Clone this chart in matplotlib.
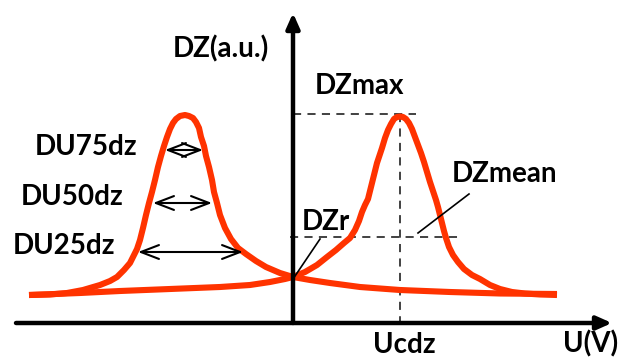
import matplotlib
matplotlib.use('Agg')
import matplotlib.pyplot as plt

plt.rcParams['font.family'] = ['Lato', 'DejaVu Sans']

# curves (U in a.u., DZ in a.u.)
left_u = [-2.64, -2.43, -2.26, -2.10, -1.93, -1.83, -1.76, -1.69, -1.63, -1.59, -1.56, -1.53, -1.50,
          -1.47, -1.44, -1.41, -1.38, -1.35, -1.32, -1.29, -1.26, -1.23, -1.20, -1.17, -1.13, -1.08,
          -1.04, -1.00, -0.97, -0.94, -0.92, -0.89, -0.87, -0.84, -0.81, -0.79, -0.76, -0.73, -0.68,
          -0.62, -0.55, -0.47, -0.37, -0.27, -0.13, 0.00, 0.17, 0.37, 0.67, 1.07, 1.57, 2.07, 2.64]
left_dz = [0.28, 0.285, 0.30, 0.33, 0.38, 0.42, 0.46, 0.53, 0.60, 0.68, 0.74, 0.83, 0.95,
           1.08, 1.20, 1.31, 1.43, 1.56, 1.67, 1.77, 1.86, 1.94, 2.00, 2.04, 2.07, 2.08,
           2.07, 2.05, 2.01, 1.95, 1.86, 1.77, 1.67, 1.56, 1.43, 1.31, 1.20, 1.08, 0.95,
           0.84, 0.75, 0.69, 0.62, 0.56, 0.50, 0.46, 0.43, 0.40, 0.36, 0.33, 0.31, 0.295, 0.29]

right_u = [-2.64, -2.13, -1.73, -1.23, -0.73, -0.43, -0.23, -0.08, 0.00, 0.12, 0.24, 0.34, 0.43,
           0.51, 0.57, 0.62, 0.66, 0.69, 0.72, 0.75, 0.78, 0.81, 0.84, 0.87, 0.89, 0.92, 0.95,
           0.98, 1.01, 1.04, 1.07, 1.10, 1.13, 1.16, 1.19, 1.22, 1.25, 1.28, 1.31, 1.34, 1.37,
           1.40, 1.43, 1.45, 1.47, 1.49, 1.51, 1.53, 1.56, 1.60, 1.65, 1.71, 1.79, 1.87, 1.97,
           2.07, 2.19, 2.32, 2.47, 2.64]
right_dz = [0.28, 0.30, 0.32, 0.34, 0.36, 0.38, 0.41, 0.44, 0.46, 0.51, 0.58, 0.66, 0.73,
            0.80, 0.85, 0.93, 1.02, 1.11, 1.18, 1.24, 1.36, 1.48, 1.60, 1.69, 1.75, 1.85, 1.93,
            1.99, 2.04, 2.06, 2.065, 2.06, 2.04, 2.00, 1.94, 1.86, 1.78, 1.70, 1.61, 1.51, 1.41,
            1.32, 1.23, 1.16, 1.08, 1.00, 0.92, 0.85, 0.76, 0.68, 0.61, 0.54, 0.48, 0.44, 0.38,
            0.34, 0.31, 0.295, 0.285, 0.28]

# marked quantities
ucdz = 1.07
dzmax = 2.09
dzr = 0.86
widths = {'DU75dz': (1.73, -1.28, -0.90),
          'DU50dz': (1.20, -1.40, -0.81),
          'DU25dz': (0.71, -1.55, -0.50)}

fig = plt.figure(figsize=(6.2, 3.61), dpi=100)
ax = fig.add_axes([0, 0, 1, 1])
ax.set_xlim(-2.93, 3.27)
ax.set_ylim(-0.38, 3.23)
ax.axis('off')

red = '#ff3300'
ax.plot(left_u, left_dz, color=red, lw=4.4, solid_capstyle='butt', solid_joinstyle='round', zorder=3)
ax.plot(right_u, right_dz, color=red, lw=4.4, solid_capstyle='butt', solid_joinstyle='round', zorder=3)

# axes with arrow heads
head = '-|>,head_length=0.9,head_width=0.4'
ax.annotate('', xy=(3.19, 0), xytext=(-2.77, 0),
            arrowprops=dict(arrowstyle=head, lw=3.2, color='black', shrinkA=0, shrinkB=0, mutation_scale=10))
ax.annotate('', xy=(0, 3.10), xytext=(0, 0),
            arrowprops=dict(arrowstyle=head, lw=3.2, color='black', shrinkA=0, shrinkB=0, mutation_scale=10))

# dashed guide lines
dash = dict(color='#333333', lw=1.3, linestyle=(0, (4.5, 3.5)), zorder=2)
ax.plot([0, 1.23], [dzmax, dzmax], **dash)
ax.plot([ucdz, ucdz], [dzmax, -0.04], **dash)
ax.plot([-0.03, 1.70], [dzr, dzr], **dash)

# leader lines
ax.plot([0.00, 0.27], [0.44, 0.84], color='black', lw=1.2, zorder=4)
ax.plot([1.25, 1.76], [0.90, 1.29], color='black', lw=1.2, zorder=4)

# width arrows
for name, (lev, a, b) in widths.items():
    ax.annotate('', xy=(b, lev), xytext=(a, lev),
                arrowprops=dict(arrowstyle='<->,head_length=1.3,head_width=0.5', lw=1.5,
                                color='black', shrinkA=0, shrinkB=0, mutation_scale=10))

fs = 20
txt = dict(fontsize=fs, fontweight='bold', ha='left', va='baseline')
ax.text(-1.20, 2.655, 'DZ(a.u.)', **txt)
ax.text(-2.58, 1.68, 'DU75dz', **txt)
ax.text(-2.72, 1.18, 'DU50dz', **txt)
ax.text(-2.80, 0.69, 'DU25dz', **txt)
ax.text(0.22, 2.295, 'DZmax', **txt)
ax.text(1.59, 1.41, 'DZmean', **txt)
ax.text(0.09, 0.93, 'DZr', **txt)
ax.text(0.80, -0.30, 'Ucdz', **txt)
ax.text(2.70, -0.29, 'U(V)', **txt)

fig.savefig('out.png', dpi=100)
